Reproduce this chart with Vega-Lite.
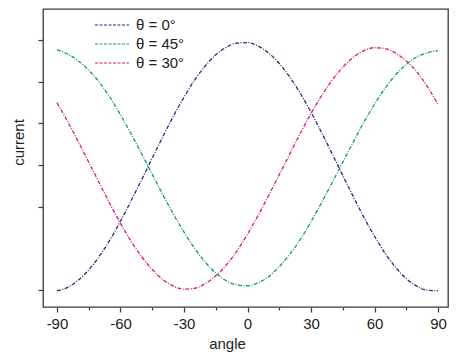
{
  "$schema": "https://vega.github.io/schema/vega-lite/v6.json",
  "width": 405,
  "height": 298,
  "autosize": "none",
  "padding": {"left": 43, "top": 9, "right": 26, "bottom": 57},
  "background": "white",
  "config": {"view": {"stroke": "#3a3a3a", "strokeWidth": 1.3}, "font": "Liberation Sans"},
  "data": {"values": [
    {"series":"θ = 0°","angle":-90,"current":-0.02},{"series":"θ = 0°","angle":-85,"current":0.06},{"series":"θ = 0°","angle":-80,"current":0.23},{"series":"θ = 0°","angle":-75,"current":0.48},{"series":"θ = 0°","angle":-70,"current":0.81},{"series":"θ = 0°","angle":-65,"current":1.20},{"series":"θ = 0°","angle":-60,"current":1.65},{"series":"θ = 0°","angle":-55,"current":2.14},{"series":"θ = 0°","angle":-50,"current":2.65},{"series":"θ = 0°","angle":-45,"current":3.17},{"series":"θ = 0°","angle":-40,"current":3.68},{"series":"θ = 0°","angle":-35,"current":4.18},{"series":"θ = 0°","angle":-30,"current":4.63},{"series":"θ = 0°","angle":-25,"current":5.04},{"series":"θ = 0°","angle":-20,"current":5.38},{"series":"θ = 0°","angle":-15,"current":5.65},{"series":"θ = 0°","angle":-10,"current":5.83},{"series":"θ = 0°","angle":-5,"current":5.93},{"series":"θ = 0°","angle":0,"current":5.94},{"series":"θ = 0°","angle":5,"current":5.86},{"series":"θ = 0°","angle":10,"current":5.69},{"series":"θ = 0°","angle":15,"current":5.44},{"series":"θ = 0°","angle":20,"current":5.11},{"series":"θ = 0°","angle":25,"current":4.72},{"series":"θ = 0°","angle":30,"current":4.27},{"series":"θ = 0°","angle":35,"current":3.78},{"series":"θ = 0°","angle":40,"current":3.27},{"series":"θ = 0°","angle":45,"current":2.75},{"series":"θ = 0°","angle":50,"current":2.24},{"series":"θ = 0°","angle":55,"current":1.74},{"series":"θ = 0°","angle":60,"current":1.29},{"series":"θ = 0°","angle":65,"current":0.88},{"series":"θ = 0°","angle":70,"current":0.54},{"series":"θ = 0°","angle":75,"current":0.27},{"series":"θ = 0°","angle":80,"current":0.09},{"series":"θ = 0°","angle":85,"current":-0.01},{"series":"θ = 0°","angle":90,"current":-0.02},
    {"series":"θ = 45°","angle":-90,"current":5.77},{"series":"θ = 45°","angle":-85,"current":5.67},{"series":"θ = 45°","angle":-80,"current":5.51},{"series":"θ = 45°","angle":-75,"current":5.28},{"series":"θ = 45°","angle":-70,"current":4.99},{"series":"θ = 45°","angle":-65,"current":4.63},{"series":"θ = 45°","angle":-60,"current":4.21},{"series":"θ = 45°","angle":-55,"current":3.75},{"series":"θ = 45°","angle":-50,"current":3.27},{"series":"θ = 45°","angle":-45,"current":2.78},{"series":"θ = 45°","angle":-40,"current":2.29},{"series":"θ = 45°","angle":-35,"current":1.82},{"series":"θ = 45°","angle":-30,"current":1.39},{"series":"θ = 45°","angle":-25,"current":1.00},{"series":"θ = 45°","angle":-20,"current":0.67},{"series":"θ = 45°","angle":-15,"current":0.41},{"series":"θ = 45°","angle":-10,"current":0.22},{"series":"θ = 45°","angle":-5,"current":0.12},{"series":"θ = 45°","angle":0,"current":0.10},{"series":"θ = 45°","angle":5,"current":0.17},{"series":"θ = 45°","angle":10,"current":0.32},{"series":"θ = 45°","angle":15,"current":0.56},{"series":"θ = 45°","angle":20,"current":0.86},{"series":"θ = 45°","angle":25,"current":1.22},{"series":"θ = 45°","angle":30,"current":1.64},{"series":"θ = 45°","angle":35,"current":2.10},{"series":"θ = 45°","angle":40,"current":2.58},{"series":"θ = 45°","angle":45,"current":3.07},{"series":"θ = 45°","angle":50,"current":3.56},{"series":"θ = 45°","angle":55,"current":4.03},{"series":"θ = 45°","angle":60,"current":4.46},{"series":"θ = 45°","angle":65,"current":4.85},{"series":"θ = 45°","angle":70,"current":5.17},{"series":"θ = 45°","angle":75,"current":5.42},{"series":"θ = 45°","angle":80,"current":5.60},{"series":"θ = 45°","angle":85,"current":5.70},{"series":"θ = 45°","angle":90,"current":5.75},
    {"series":"θ = 30°","angle":-90,"current":4.50},{"series":"θ = 30°","angle":-85,"current":4.05},{"series":"θ = 30°","angle":-80,"current":3.57},{"series":"θ = 30°","angle":-75,"current":3.07},{"series":"θ = 30°","angle":-70,"current":2.57},{"series":"θ = 30°","angle":-65,"current":2.07},{"series":"θ = 30°","angle":-60,"current":1.60},{"series":"θ = 30°","angle":-55,"current":1.17},{"series":"θ = 30°","angle":-50,"current":0.80},{"series":"θ = 30°","angle":-45,"current":0.49},{"series":"θ = 30°","angle":-40,"current":0.25},{"series":"θ = 30°","angle":-35,"current":0.09},{"series":"θ = 30°","angle":-30,"current":0.02},{"series":"θ = 30°","angle":-25,"current":0.04},{"series":"θ = 30°","angle":-20,"current":0.15},{"series":"θ = 30°","angle":-15,"current":0.34},{"series":"θ = 30°","angle":-10,"current":0.60},{"series":"θ = 30°","angle":-5,"current":0.94},{"series":"θ = 30°","angle":0,"current":1.34},{"series":"θ = 30°","angle":5,"current":1.79},{"series":"θ = 30°","angle":10,"current":2.27},{"series":"θ = 30°","angle":15,"current":2.77},{"series":"θ = 30°","angle":20,"current":3.27},{"series":"θ = 30°","angle":25,"current":3.77},{"series":"θ = 30°","angle":30,"current":4.24},{"series":"θ = 30°","angle":35,"current":4.67},{"series":"θ = 30°","angle":40,"current":5.04},{"series":"θ = 30°","angle":45,"current":5.35},{"series":"θ = 30°","angle":50,"current":5.59},{"series":"θ = 30°","angle":55,"current":5.75},{"series":"θ = 30°","angle":60,"current":5.82},{"series":"θ = 30°","angle":65,"current":5.80},{"series":"θ = 30°","angle":70,"current":5.69},{"series":"θ = 30°","angle":75,"current":5.50},{"series":"θ = 30°","angle":80,"current":5.24},{"series":"θ = 30°","angle":85,"current":4.88},{"series":"θ = 30°","angle":90,"current":4.45}
  ]},
  "mark": {"type": "line", "strokeWidth": 1.3, "strokeDash": [4, 1.5, 1, 1.5], "interpolate": "monotone"},
  "encoding": {
    "x": {
      "field": "angle", "type": "quantitative",
      "scale": {"domain": [-96.6, 94.7], "nice": false, "zero": false},
      "axis": {
        "title": "angle",
        "values": [-90,-75,-60,-45,-30,-15,0,15,30,45,60,75,90],
        "labelExpr": "datum.value % 30 === 0 ? '' + datum.value : ''",
        "tickSize": {"condition": {"test": "datum.value % 30 === 0", "value": 5}, "value": 3},
        "grid": false, "domain": false,
        "tickColor": "#3a3a3a", "tickWidth": 1.2,
        "labelFontSize": 15, "labelColor": "#222", "labelPadding": 4, "labelFlush": false,
        "titleFontSize": 15, "titleFontWeight": "normal", "titleColor": "#222", "titlePadding": 5,
        "titleX": 184, "titleAlign": "center"
      }
    },
    "y": {
      "field": "current", "type": "quantitative",
      "scale": {"domain": [-0.41, 6.75], "nice": false, "zero": false},
      "axis": {
        "title": "current",
        "values": [0, 2, 3, 4, 5, 6],
        "labels": false, "grid": false, "domain": false,
        "tickSize": 5, "tickColor": "#3a3a3a", "tickWidth": 1.2,
        "titleFontSize": 15, "titleFontWeight": "normal", "titleColor": "#222",
        "titleX": -25, "titleY": 133, "titleAngle": -90, "titleAlign": "center", "titleBaseline": "middle"
      }
    },
    "color": {
      "field": "series", "type": "nominal",
      "scale": {"domain": ["θ = 0°", "θ = 45°", "θ = 30°"], "range": ["#2b2d6e", "#139a6b", "#d71b7f"]},
      "legend": {
        "orient": "none", "legendX": 58, "legendY": 5, "title": null, "padding": 0,
        "symbolType": "M-1.7,0H1.7", "symbolSize": 400, "symbolStrokeWidth": 1.2, "symbolDash": [3, 1.5],
        "labelFontSize": 15, "labelColor": "#222", "labelOffset": 13, "rowPadding": 0
      }
    }
  }
}
